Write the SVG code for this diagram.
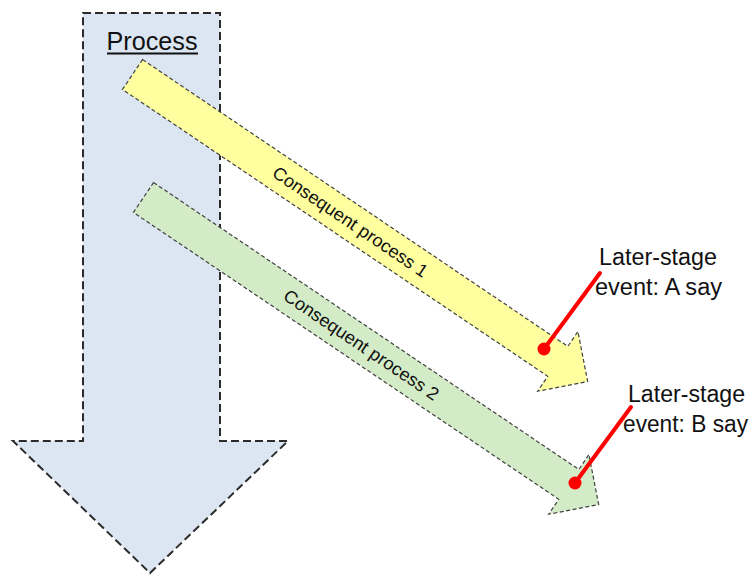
<svg xmlns="http://www.w3.org/2000/svg" width="752" height="576" viewBox="0 0 752 576">
  <style>
    .main { fill: #dce6f3; stroke: #2b2b2b; stroke-width: 2; stroke-dasharray: 8 4; }
    .sub { stroke: #404040; stroke-width: 1.2; stroke-dasharray: 4 2.5; }
    .yellow { fill: #ffffa0; }
    .green { fill: #d3ebc6; }
    .lbl { font-family: "Liberation Sans", Arial, sans-serif; fill: #111; }
    .ptr { stroke: #ff0000; stroke-width: 4; stroke-linecap: round; }
    .dot { fill: #ff0000; }
  </style>
  <defs>
    <!-- shaft plus stubby head, drawn along +x from the tail midpoint -->
    <path id="subArrow" d="M0,-18 L513,-18 L513,-36 L549,0 L513,36 L513,18 L0,18 Z"/>
  </defs>

  <g id="process">
    <path class="main" d="M83,13 L220,13 L220,441 L288,441 L150,573 L13,441 L83,441 Z"/>
    <text class="lbl" x="152" y="50" font-size="25" text-anchor="middle" textLength="91" lengthAdjust="spacingAndGlyphs">Process</text>
    <line x1="107" y1="53.5" x2="198" y2="53.5" stroke="#111" stroke-width="2"/>
  </g>

  <g id="consequent1" transform="translate(132.5,74.5) rotate(34)">
    <use href="#subArrow" class="sub yellow"/>
    <text class="lbl" x="263" y="6.5" font-size="18" text-anchor="middle" textLength="183" lengthAdjust="spacingAndGlyphs">Consequent process 1</text>
  </g>

  <g id="consequent2" transform="translate(143.5,197.5) rotate(34)">
    <use href="#subArrow" class="sub green"/>
    <text class="lbl" x="263" y="6.5" font-size="18" text-anchor="middle" textLength="183" lengthAdjust="spacingAndGlyphs">Consequent process 2</text>
  </g>

  <g id="eventA">
    <text class="lbl" x="599" y="265" font-size="23" textLength="118" lengthAdjust="spacingAndGlyphs">Later-stage</text>
    <text class="lbl" x="595" y="295" font-size="23" textLength="127" lengthAdjust="spacingAndGlyphs">event: A say</text>
  </g>

  <g id="eventB">
    <text class="lbl" x="628" y="402" font-size="23" textLength="117" lengthAdjust="spacingAndGlyphs">Later-stage</text>
    <text class="lbl" x="623" y="432" font-size="23" textLength="125" lengthAdjust="spacingAndGlyphs">event: B say</text>
  </g>

  <g id="connectors">
    <line class="ptr" x1="544" y1="349" x2="600" y2="273"/>
    <circle class="dot" cx="544" cy="349" r="6.5"/>
    <line class="ptr" x1="575" y1="483" x2="631" y2="407"/>
    <circle class="dot" cx="575" cy="483" r="6.5"/>
  </g>
</svg>
